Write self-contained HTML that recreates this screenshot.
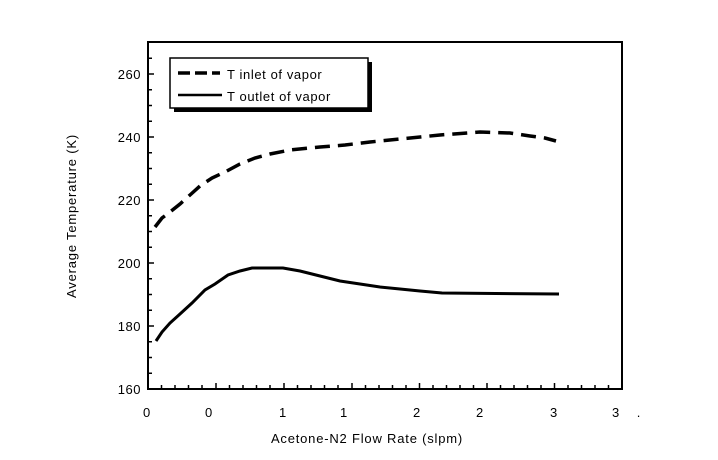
<!DOCTYPE html>
<html><head><meta charset="utf-8"><style>
html,body{margin:0;padding:0;background:#fff;}
svg{display:block;font-family:"Liberation Sans",Arial,sans-serif;}
</style></head><body>
<svg width="718" height="460" viewBox="0 0 718 460" xmlns="http://www.w3.org/2000/svg">
<rect width="718" height="460" fill="#fff"/>
<g stroke="#000" stroke-width="2" fill="none">
<rect x="148" y="42" width="474" height="347"/>
</g>
<g stroke="#000" stroke-width="1.5">
<line x1="148" y1="389" x2="154" y2="389"/>
<line x1="148" y1="373.25" x2="152" y2="373.25"/>
<line x1="148" y1="357.5" x2="152" y2="357.5"/>
<line x1="148" y1="341.75" x2="152" y2="341.75"/>
<line x1="148" y1="326" x2="154" y2="326"/>
<line x1="148" y1="310.25" x2="152" y2="310.25"/>
<line x1="148" y1="294.5" x2="152" y2="294.5"/>
<line x1="148" y1="278.75" x2="152" y2="278.75"/>
<line x1="148" y1="263" x2="154" y2="263"/>
<line x1="148" y1="247.25" x2="152" y2="247.25"/>
<line x1="148" y1="231.5" x2="152" y2="231.5"/>
<line x1="148" y1="215.75" x2="152" y2="215.75"/>
<line x1="148" y1="200" x2="154" y2="200"/>
<line x1="148" y1="184.25" x2="152" y2="184.25"/>
<line x1="148" y1="168.5" x2="152" y2="168.5"/>
<line x1="148" y1="152.75" x2="152" y2="152.75"/>
<line x1="148" y1="137" x2="154" y2="137"/>
<line x1="148" y1="121.25" x2="152" y2="121.25"/>
<line x1="148" y1="105.5" x2="152" y2="105.5"/>
<line x1="148" y1="89.75" x2="152" y2="89.75"/>
<line x1="148" y1="74" x2="154" y2="74"/>
<line x1="148" y1="58.25" x2="152" y2="58.25"/>
<line x1="161.5" y1="389" x2="161.5" y2="385"/><line x1="175" y1="389" x2="175" y2="385"/><line x1="188.5" y1="389" x2="188.5" y2="385"/><line x1="202" y1="389" x2="202" y2="385"/>
<line x1="216" y1="389" x2="216" y2="383"/>
<line x1="229.5" y1="389" x2="229.5" y2="385"/><line x1="243" y1="389" x2="243" y2="385"/><line x1="256.5" y1="389" x2="256.5" y2="385"/><line x1="270" y1="389" x2="270" y2="385"/>
<line x1="284" y1="389" x2="284" y2="383"/>
<line x1="297.5" y1="389" x2="297.5" y2="385"/><line x1="311" y1="389" x2="311" y2="385"/><line x1="324.5" y1="389" x2="324.5" y2="385"/><line x1="338" y1="389" x2="338" y2="385"/>
<line x1="352" y1="389" x2="352" y2="383"/>
<line x1="365.5" y1="389" x2="365.5" y2="385"/><line x1="379" y1="389" x2="379" y2="385"/><line x1="392.5" y1="389" x2="392.5" y2="385"/><line x1="406" y1="389" x2="406" y2="385"/>
<line x1="419.5" y1="389" x2="419.5" y2="383"/>
<line x1="433" y1="389" x2="433" y2="385"/><line x1="446.5" y1="389" x2="446.5" y2="385"/><line x1="460" y1="389" x2="460" y2="385"/><line x1="473.5" y1="389" x2="473.5" y2="385"/>
<line x1="487" y1="389" x2="487" y2="383"/>
<line x1="500.5" y1="389" x2="500.5" y2="385"/><line x1="514" y1="389" x2="514" y2="385"/><line x1="527.5" y1="389" x2="527.5" y2="385"/><line x1="541" y1="389" x2="541" y2="385"/>
<line x1="554.5" y1="389" x2="554.5" y2="383"/>
<line x1="568" y1="389" x2="568" y2="385"/><line x1="581.5" y1="389" x2="581.5" y2="385"/><line x1="595" y1="389" x2="595" y2="385"/><line x1="608.5" y1="389" x2="608.5" y2="385"/>
</g>
<g font-size="13" fill="#000" text-anchor="end" letter-spacing="0.5">
<text x="141" y="394">160</text>
<text x="141" y="331">180</text>
<text x="141" y="268">200</text>
<text x="141" y="205">220</text>
<text x="141" y="142">240</text>
<text x="141" y="79">260</text>
</g>
<g font-size="13" fill="#000" text-anchor="middle" letter-spacing="0.8">
<text x="147" y="417">0</text>
<text x="209" y="417">0</text>
<text x="283" y="417">1</text>
<text x="344" y="417">1</text>
<text x="417" y="417">2</text>
<text x="480" y="417">2</text>
<text x="554" y="417">3</text>
<text x="616" y="417">3</text>
<text x="639" y="417">.</text>
<text x="367" y="443">Acetone-N2 Flow Rate (slpm)</text>
<text transform="translate(76,216) rotate(-90)">Average Temperature (K)</text>
</g>
<path d="M155,227 L162,218 L170,212 L180,204 L190,195 L200,186 L212,178 L225,172 L240,164 L255,158 L270,154 L290,150 L320,147 L345,145 L370,142 L400,139 L440,135 L480,132 L510,133 L530,136 L545,138 L556,141" fill="none" stroke="#000" stroke-width="3.5" stroke-dasharray="15,8"/>
<path d="M156,341 L162,332 L170,323 L180,314 L192,303 L205,290 L215,284 L228,275 L240,271 L252,268 L283,268 L300,271 L320,276 L340,281 L360,284 L380,287 L400,289 L420,291 L442,293 L559,294" fill="none" stroke="#000" stroke-width="3"/>
<rect x="174" y="62" width="198" height="50" fill="#000"/>
<rect x="170" y="58" width="198" height="50" fill="#fff" stroke="#000" stroke-width="1.5"/>
<line x1="178" y1="73" x2="220" y2="73" stroke="#000" stroke-width="3.5" stroke-dasharray="12,5"/>
<line x1="178" y1="95" x2="222" y2="95" stroke="#000" stroke-width="2.5"/>
<g font-size="13" fill="#000" letter-spacing="0.6">
<text x="227" y="79">T inlet of vapor</text>
<text x="227" y="101">T outlet of vapor</text>
</g>
</svg>
</body></html>
